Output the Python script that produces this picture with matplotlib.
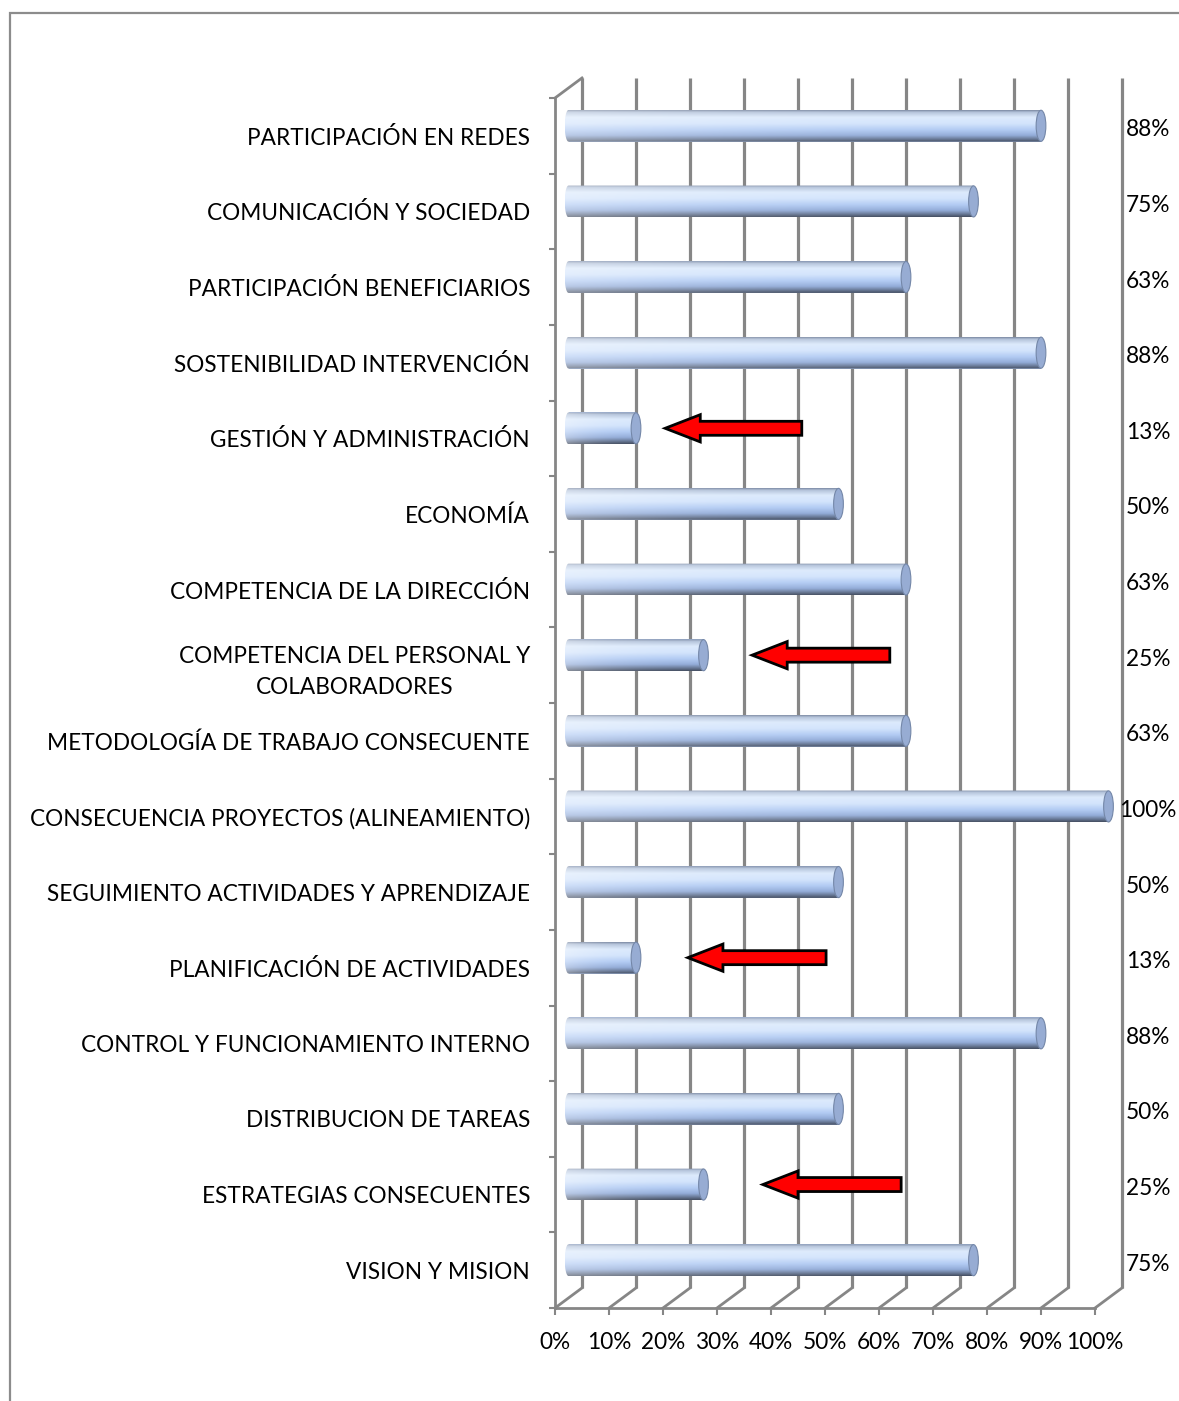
import numpy as np
import matplotlib
matplotlib.use("Agg")
import matplotlib.pyplot as plt
from matplotlib.patches import Ellipse, FancyArrow, PathPatch, Rectangle
from matplotlib.path import Path
from matplotlib.colors import LinearSegmentedColormap

# ---------------- data ----------------
categories = [
    "PARTICIPACIÓN EN REDES",
    "COMUNICACIÓN Y SOCIEDAD",
    "PARTICIPACIÓN BENEFICIARIOS",
    "SOSTENIBILIDAD INTERVENCIÓN",
    "GESTIÓN Y ADMINISTRACIÓN",
    "ECONOMÍA",
    "COMPETENCIA DE LA DIRECCIÓN",
    "COMPETENCIA DEL PERSONAL Y\nCOLABORADORES",
    "METODOLOGÍA DE TRABAJO CONSECUENTE",
    "CONSECUENCIA PROYECTOS (ALINEAMIENTO)",
    "SEGUIMIENTO ACTIVIDADES Y APRENDIZAJE",
    "PLANIFICACIÓN DE ACTIVIDADES",
    "CONTROL Y FUNCIONAMIENTO INTERNO",
    "DISTRIBUCION DE TAREAS",
    "ESTRATEGIAS CONSECUENTES",
    "VISION Y MISION",
]
values = [0.875, 0.75, 0.625, 0.875, 0.125, 0.5, 0.625, 0.25,
          0.625, 1.0, 0.5, 0.125, 0.875, 0.5, 0.25, 0.75]
x_ticks = [0.0, 0.1, 0.2, 0.3, 0.4, 0.5, 0.6, 0.7, 0.8, 0.9, 1.0]
x_tick_labels = ["0%", "10%", "20%", "30%", "40%", "50%", "60%", "70%", "80%", "90%", "100%"]

# red annotation arrows: category index, tip value, tail value
arrow_cats = [4, 7, 11, 14]
arrow_tips = [0.204, 0.365, 0.246, 0.385]
arrow_tails = [0.457, 0.620, 0.502, 0.641]

# ---------------- style ----------------
W, H = 1179, 1401
FONT = "Lato"
FS = 16.3
GRID = "#868686"
DX = 0.05      # depth offset (x units)
DY = 0.265     # depth offset (category units)
BAR_H = 0.42
XMAX = 1.08    # extra room so the 100% cylinder is not clipped

fig = plt.figure(figsize=(W / 100, H / 100), dpi=100)
fig.patch.set_facecolor("white")
ax = fig.add_axes([555 / W, (H - 1308) / H, 540 * XMAX / W, 1210 / H])
ax.set_facecolor("none")
n = len(categories)
ax.set_xlim(0, XMAX)
ax.set_ylim(n - 0.5, -0.5)

# outer chart-area border (clipped by figure edge)
fig.add_artist(Rectangle((10 / W, -0.1), 1.2, 1.1 - 13 / H, transform=fig.transFigure,
                         facecolor="none", edgecolor="#8c8c8c", lw=1.6))

# back wall gridlines and floor lines
top_back = -0.5 - DY
bot_back = n - 0.5 - DY
for v in x_ticks:
    ax.plot([v + DX, v + DX], [top_back, bot_back], color=GRID, lw=2.3,
            zorder=1, clip_on=False, solid_capstyle="butt")
    ax.plot([v, v + DX], [n - 0.5, bot_back], color=GRID, lw=2.0,
            zorder=1, clip_on=False)
ax.plot([0, DX], [-0.5, top_back], color=GRID, lw=2.0, zorder=1, clip_on=False)

# spines / ticks
for s in ["top", "right"]:
    ax.spines[s].set_visible(False)
for s in ["left", "bottom"]:
    ax.spines[s].set_color(GRID)
    ax.spines[s].set_linewidth(2.0)
ax.spines["bottom"].set_bounds(0, 1)
ax.set_xticks(x_ticks)
ax.set_xticklabels(x_tick_labels, fontfamily=FONT, fontsize=FS)
ax.tick_params(axis="x", length=5, width=1.5, color=GRID, pad=12)
ax.set_yticks(np.arange(-0.5, n, 1.0))
ax.set_yticklabels([])
ax.tick_params(axis="y", which="major", length=4.5, width=1.5, color=GRID)
ax.set_yticks(np.arange(n), minor=True)
ax.set_yticklabels(categories, minor=True, fontfamily=FONT, fontsize=FS,
                   multialignment="center", linespacing=1.55)
ax.tick_params(axis="y", which="minor", length=0, pad=18)

# cylinder bars
ypos = np.arange(n) - DY / 2
bars = ax.barh(ypos, values, left=DX / 2, height=BAR_H, color="#b3c9ee",
               zorder=2)

prof = LinearSegmentedColormap.from_list("prof", [
    (0.0, "#7d8ba4"), (0.06, "#b4c3da"), (0.22, "#dceafc"), (0.42, "#d3e4fc"),
    (0.62, "#b2cbf3"), (0.80, "#93acd8"), (0.91, "#6a7b99"), (1.0, "#454f62")])
rows, cols = 64, 200
vert = prof(np.linspace(0, 1, rows))[:, :3]
hor = np.linspace(1, 0, cols)
img = vert[:, None, :] * (1 - 0.35 * hor[None, :, None] ** 2) + \
    0.35 * hor[None, :, None] ** 2 * np.ones(3)
img = np.clip(img, 0, 1)

a = 0.007
for b in bars:
    x0 = b.get_x()
    x1 = x0 + b.get_width()
    y0 = b.get_y()
    y1 = y0 + b.get_height()
    yc = (y0 + y1) / 2
    t = np.linspace(0, np.pi, 20)
    arc = np.column_stack([x0 - a * np.sin(t), y1 - (y1 - y0) * (1 - np.cos(t)) / 2])
    verts = [(x0, y0), (x1, y0), (x1, y1)] + [tuple(p) for p in arc] + [(x0, y0)]
    path = Path(verts)
    clip = PathPatch(path, transform=ax.transData, facecolor="none", edgecolor="none")
    ax.add_patch(clip)
    im = ax.imshow(img, extent=(x0 - a, x1, y1, y0), origin="upper",
                   aspect="auto", zorder=3, interpolation="bilinear")
    im.set_clip_path(clip)
    ax.add_patch(Ellipse((x1, yc), width=0.018, height=BAR_H * 0.98,
                         facecolor="#97acd3", edgecolor="#7487a8", lw=0.8, zorder=4))

ax.set_xlim(0, XMAX)
ax.set_ylim(n - 0.5, -0.5)

# value labels
for i, v in enumerate(values):
    ax.text(1.098, i - 0.08, f"{int(v * 100 + 0.5)}%", ha="center", va="center",
            fontfamily=FONT, fontsize=FS, clip_on=False)

# red arrows
for c, tip, tail in zip(arrow_cats, arrow_tips, arrow_tails):
    yc = c - DY / 2
    ax.add_patch(FancyArrow(tail, yc, tip - tail, 0, width=0.185, head_width=0.36,
                            head_length=0.065, length_includes_head=True,
                            facecolor="#ff0000", edgecolor="black", lw=2.0, zorder=6))

fig.savefig("out.png", dpi=100, facecolor="white")
